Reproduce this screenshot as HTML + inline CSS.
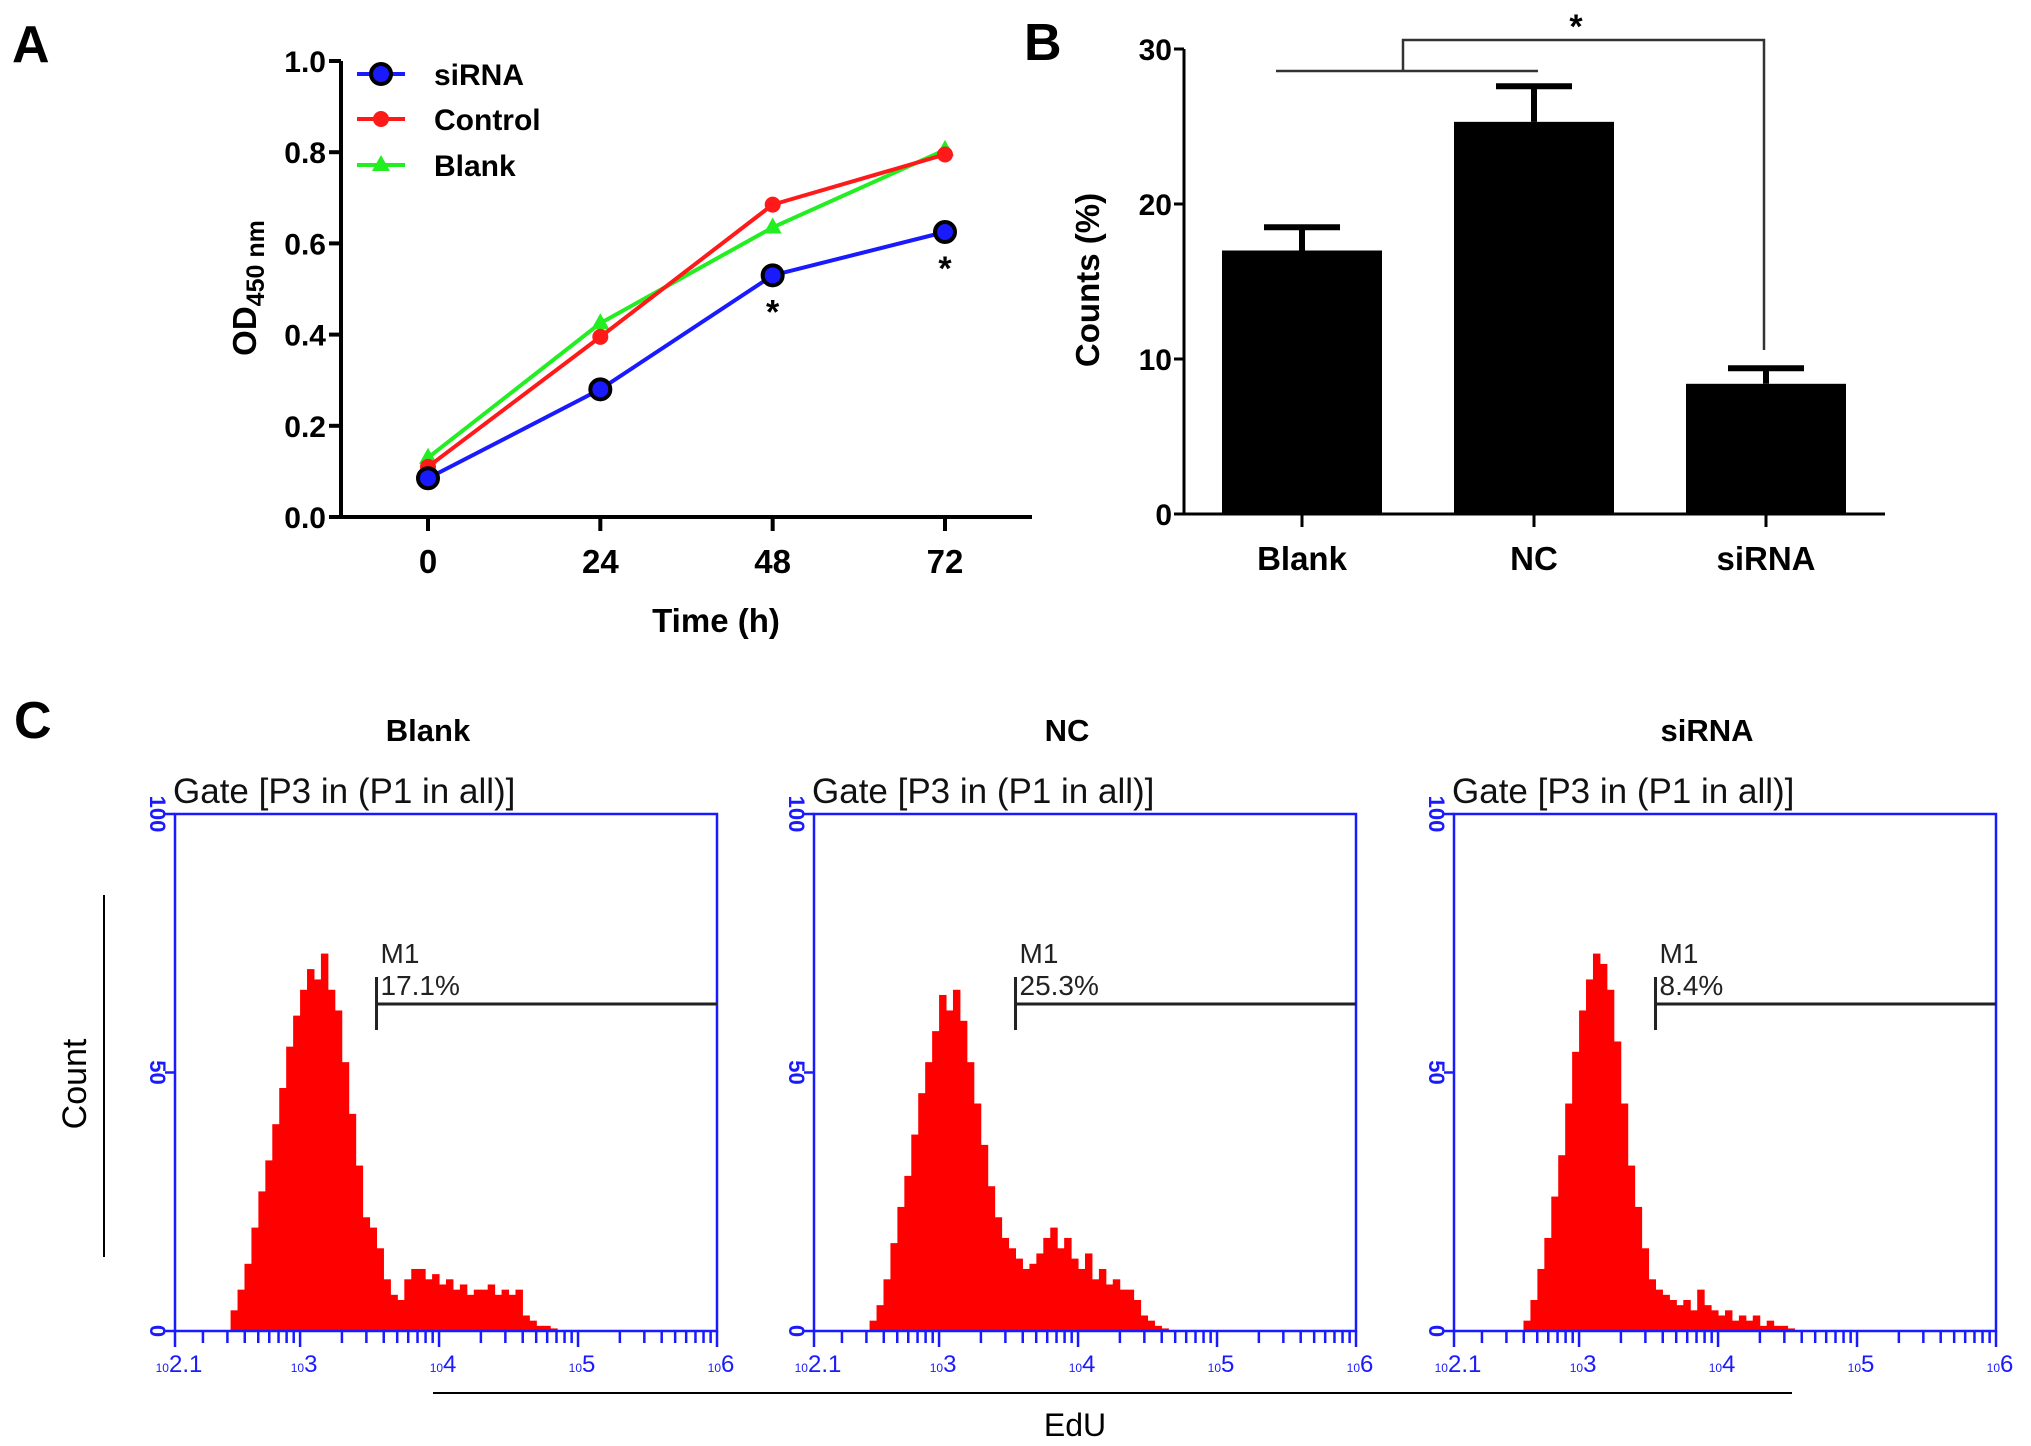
<!DOCTYPE html>
<html><head><meta charset="utf-8"><style>
html,body{margin:0;padding:0;background:#fff;}
svg{display:block;font-family:"Liberation Sans",Arial,sans-serif;}
</style></head><body>
<svg id="fig" width="2031" height="1446" viewBox="0 0 2031 1446" xmlns="http://www.w3.org/2000/svg">
<g id="pa"></g>
<g id="pb"></g>
<g id="pc"></g>
</svg>
<script>
// ---- Panel A data ----
const timeCats = [0, 24, 48, 72];
const siRNAVals = [0.085, 0.28, 0.53, 0.625];
const controlVals = [0.11, 0.395, 0.685, 0.795];
const blankVals = [0.13, 0.425, 0.635, 0.805];
const aYTicks = [0.0, 0.2, 0.4, 0.6, 0.8, 1.0];
// ---- Panel B data ----
const bCats = ["Blank", "NC", "siRNA"];
const bVals = [17.0, 25.3, 8.4];
const bErr = [1.5, 2.3, 1.0];
const bYTicks = [0, 10, 20, 30];
// ---- Panel C data (histograms, log10 bins from 2.45 step 0.05) ----
const cTitles = ["Blank", "NC", "siRNA"];
const cPercents = ["17.1%", "25.3%", "8.4%"];
const histBlank = [0,4,8,13,20,27,33,40,47,55,61,66,70,68,73,66,62,52,42,32,22,20,16,10,7,6,10,12,12,10,11,9,10,8,9,7,8,8,9,7,8,7,8,3,2,1,1,0.5,0,0];
const histNC = [0,2,5,10,17,24,30,38,46,52,58,65,62,66,60,52,44,36,28,22,18,16,14,12,13,15,18,20,16,18,14,12,15,10,12,9,10,8,8,6,3,2,1,0.5,0,0,0,0,0,0];
const histSi = [0,0,0,2,6,12,18,26,34,44,54,62,68,73,71,66,56,44,32,24,16,10,8,7,6,5,6,4,8,5,4,3,4,2,3,2,3,1,2,1,1,0.5,0,0,0,0,0,0,0,0];

const NS = "http://www.w3.org/2000/svg";
function mk(parent, tag, attrs, text) {
  const e = document.createElementNS(NS, tag);
  for (const k in attrs) e.setAttribute(k, attrs[k]);
  if (text !== undefined) e.textContent = text;
  parent.appendChild(e);
  return e;
}

// ===== Panel A =====
const pa = document.getElementById('pa');
const aX0 = 341, aY0 = 517, aY1 = 61;
const ax = t => 428 + (t / 72) * (945 - 428);
const ay = v => aY0 - v * (aY0 - aY1);
let t = mk(pa, 'text', {x: 12, y: 62, 'font-size': 52, 'font-weight': 'bold'}, 'A');


let l = mk(pa, 'line', {x1: aX0, y1: aY1, x2: aX0, y2: aY0, stroke: '#000', 'stroke-width': 4});


l = mk(pa, 'line', {x1: aX0 - 2, y1: aY0, x2: 1032, y2: aY0, stroke: '#000', 'stroke-width': 4});


aYTicks.forEach(v => {
  mk(pa, 'line', {x1: aX0 - 12, y1: ay(v), x2: aX0, y2: ay(v), stroke: '#000', 'stroke-width': 4});
  const tt = mk(pa, 'text', {x: aX0 - 15, y: ay(v) + 11, 'font-size': 30, 'font-weight': 'bold', 'text-anchor': 'end'}, v.toFixed(1));
  
  
});
timeCats.forEach(c => {
  mk(pa, 'line', {x1: ax(c), y1: aY0, x2: ax(c), y2: aY0 + 14, stroke: '#000', 'stroke-width': 4});
  const tt = mk(pa, 'text', {x: ax(c), y: 573, 'font-size': 33, 'font-weight': 'bold', 'text-anchor': 'middle'}, String(c));
  
  
});
t = mk(pa, 'text', {x: 716, y: 632, 'font-size': 33, 'font-weight': 'bold', 'text-anchor': 'middle'}, 'Time (h)');


t = mk(pa, 'text', {x: 0, y: 0, 'font-size': 33, 'font-weight': 'bold', 'text-anchor': 'middle', transform: 'translate(256,288) rotate(-90)'});


t.innerHTML = 'OD<tspan font-size="25" dy="8">450 nm</tspan>';

function drawSeries(vals, color, marker, name) {
  const g = mk(pa, 'g', {});
  
  
  const pts = vals.map((v, i) => ax(timeCats[i]) + ',' + ay(v)).join(' ');
  mk(g, 'polyline', {points: pts, fill: 'none', stroke: color, 'stroke-width': 4});
  vals.forEach((v, i) => {
    const cx = ax(timeCats[i]), cy = ay(v);
    let m;
    if (marker === 'circleBig') m = mk(g, 'circle', {cx, cy, r: 10, fill: '#1a1aff', stroke: '#000', 'stroke-width': 4});
    else if (marker === 'circle') m = mk(g, 'circle', {cx, cy, r: 8, fill: color});
    else m = mk(g, 'polygon', {points: `${cx},${cy - 10} ${cx - 9},${cy + 6} ${cx + 9},${cy + 6}`, fill: color});
    
    
  });
}
drawSeries(blankVals, '#22ee22', 'tri', 'blank');
drawSeries(controlVals, '#ff1a1a', 'circle', 'control');
drawSeries(siRNAVals, '#1a1aff', 'circleBig', 'sirna');
[2, 3].forEach(i => {
  const st = mk(pa, 'text', {x: ax(timeCats[i]), y: ay(siRNAVals[i]) + 48, 'font-size': 34, 'font-weight': 'bold', 'text-anchor': 'middle'}, '*');
  
  
});
const legend = mk(pa, 'g', {});


[['siRNA', '#1a1aff', 'circleBig', 74], ['Control', '#ff1a1a', 'circle', 119], ['Blank', '#22ee22', 'tri', 165]].forEach(([lab, col, mkr, y]) => {
  const e = mk(legend, 'g', {});
  
  
  mk(e, 'line', {x1: 357, y1: y, x2: 405, y2: y, stroke: col, 'stroke-width': 4});
  if (mkr === 'circleBig') mk(e, 'circle', {cx: 381, cy: y, r: 10, fill: '#1a1aff', stroke: '#000', 'stroke-width': 4});
  else if (mkr === 'circle') mk(e, 'circle', {cx: 381, cy: y, r: 8, fill: col});
  else mk(e, 'polygon', {points: `381,${y - 10} 372,${y + 6} 390,${y + 6}`, fill: col});
  mk(e, 'text', {x: 434, y: y + 11, 'font-size': 30, 'font-weight': 'bold'}, lab);
});

// ===== Panel B =====
const pb = document.getElementById('pb');
const bX0 = 1184, bY0 = 514, bY1 = 49;
const by = v => bY0 - v / 30 * (bY0 - bY1);
const bCenters = [1302, 1534, 1767];
const bx = i => bCenters[0] + i * (bCenters[1] - bCenters[0]);
t = mk(pb, 'text', {x: 1024, y: 60, 'font-size': 52, 'font-weight': 'bold'}, 'B');


l = mk(pb, 'line', {x1: bX0, y1: bY1, x2: bX0, y2: bY0, stroke: '#000', 'stroke-width': 3});


l = mk(pb, 'line', {x1: bX0 - 2, y1: bY0, x2: 1885, y2: bY0, stroke: '#000', 'stroke-width': 3});


bYTicks.forEach(v => {
  mk(pb, 'line', {x1: bX0 - 10, y1: by(v), x2: bX0, y2: by(v), stroke: '#000', 'stroke-width': 3});
  const tt = mk(pb, 'text', {x: bX0 - 12, y: by(v) + 11, 'font-size': 30, 'text-anchor': 'end', 'font-weight': 'bold'}, String(v));
  
  
});
bCats.forEach((c, i) => {
  const cx = bx(i);
  const r = mk(pb, 'rect', {x: cx - 80, y: by(bVals[i]), width: 160, height: bY0 - by(bVals[i]), fill: '#000'});
  
  
  const eb = mk(pb, 'path', {d: `M${cx},${by(bVals[i])} V${by(bVals[i] + bErr[i])} M${cx - 38},${by(bVals[i] + bErr[i])} H${cx + 38}`, stroke: '#000', 'stroke-width': 6, fill: 'none'});
  
  
  mk(pb, 'line', {x1: cx, y1: bY0, x2: cx, y2: bY0 + 13, stroke: '#000', 'stroke-width': 3});
  const tt = mk(pb, 'text', {x: cx, y: 570, 'font-size': 33, 'font-weight': 'bold', 'text-anchor': 'middle'}, c);
  
  
});
t = mk(pb, 'text', {x: 0, y: 0, 'font-size': 33, 'font-weight': 'bold', 'text-anchor': 'middle', transform: 'translate(1099,280) rotate(-90)'}, 'Counts (%)');


const br = mk(pb, 'path', {d: 'M1276,71 H1538 M1403,71 V40 H1764 V350', stroke: '#333', 'stroke-width': 2.5, fill: 'none'});


t = mk(pb, 'text', {x: 1576, y: 38, 'font-size': 34, 'font-weight': 'bold', 'text-anchor': 'middle'}, '*');



// ===== Panel C =====
const pc = document.getElementById('pc');
t = mk(pc, 'text', {x: 14, y: 738, 'font-size': 52, 'font-weight': 'bold'}, 'C');


t = mk(pc, 'text', {x: 0, y: 0, 'font-size': 34, 'text-anchor': 'middle', transform: 'translate(86,1084) rotate(-90)'}, 'Count');


mk(pc, 'line', {x1: 104, y1: 895, x2: 104, y2: 1257, stroke: '#000', 'stroke-width': 2});
mk(pc, 'line', {x1: 433, y1: 1393, x2: 1792, y2: 1393, stroke: '#000', 'stroke-width': 2});
t = mk(pc, 'text', {x: 1075, y: 1436, 'font-size': 32, 'text-anchor': 'middle'}, 'EdU');



const hists = [histBlank, histNC, histSi];
const lefts = [175, 814, 1454];
const cTop = 814, cBot = 1331, cW = 542;
const gateLog = 3.55;
hists.forEach((h, p) => {
  const L = lefts[p], R = L + cW;
  const hx = lg => L + (lg - 2.1) / 3.9 * cW;
  const hy = c => cBot - c / 100 * (cBot - cTop);
  const g = mk(pc, 'g', {});
  
  
  let tt = mk(g, 'text', {x: L + 253, y: 741, 'font-size': 31, 'font-weight': 'bold', 'text-anchor': 'middle'}, cTitles[p]);
  
  
  mk(g, 'text', {x: L - 2, y: 803, 'font-size': 35, fill: '#111'}, 'Gate [P3 in (P1 in all)]');
  h.forEach((c, i) => {
    if (c <= 0) return;
    const lg = 2.45 + i * 0.05;
    const b = mk(g, 'rect', {x: hx(lg), y: hy(c), width: hx(lg + 0.05) - hx(lg) + 0.5, height: cBot - hy(c), fill: '#ff0000'});
    
    
  });
  mk(g, 'rect', {x: L, y: cTop, width: cW, height: cBot - cTop, fill: 'none', stroke: '#1a1aff', 'stroke-width': 2.5});
  [0, 50, 100].forEach(v => {
    mk(g, 'line', {x1: L - 10, y1: hy(v), x2: L, y2: hy(v), stroke: '#1a1aff', 'stroke-width': 2.5});
    mk(g, 'text', {x: 0, y: 0, 'font-size': 22, 'font-weight': 'bold', fill: '#1a1aff', 'text-anchor': 'middle', transform: `translate(${L - 25},${hy(v)}) rotate(90)`}, String(v));
  });
  for (let d = 2; d <= 5; d++) {
    for (let k = 1; k <= 9; k++) {
      const lg = d + Math.log10(k);
      if (lg < 2.1 || lg > 6) continue;
      mk(g, 'line', {x1: hx(lg), y1: cBot, x2: hx(lg), y2: cBot + (k === 1 ? 16 : 12), stroke: '#1a1aff', 'stroke-width': 2.5});
    }
  }
  mk(g, 'line', {x1: hx(2.1), y1: cBot, x2: hx(2.1), y2: cBot + 16, stroke: '#1a1aff', 'stroke-width': 2.5});
  mk(g, 'line', {x1: hx(6), y1: cBot, x2: hx(6), y2: cBot + 16, stroke: '#1a1aff', 'stroke-width': 2.5});
  [['2.1', 2.1], ['3', 3], ['4', 4], ['5', 5], ['6', 6]].forEach(([s, lg]) => {
    const lt = mk(g, 'text', {x: hx(lg) + 4, y: 1372, 'font-size': 24, fill: '#1a1aff', 'text-anchor': 'middle'});
    lt.innerHTML = '<tspan font-size="12">10</tspan>' + s;
  });
  const gx = hx(gateLog);
  const gm = mk(g, 'path', {d: `M${gx},977 V1030 M${gx},1004 H${R}`, stroke: '#222', 'stroke-width': 3, fill: 'none'});
  
  
  mk(g, 'text', {x: gx + 4, y: 963, 'font-size': 28, fill: '#222'}, 'M1');
  tt = mk(g, 'text', {x: gx + 4, y: 995, 'font-size': 28, fill: '#222'}, cPercents[p]);
  
  
});
</script>
</body></html>
